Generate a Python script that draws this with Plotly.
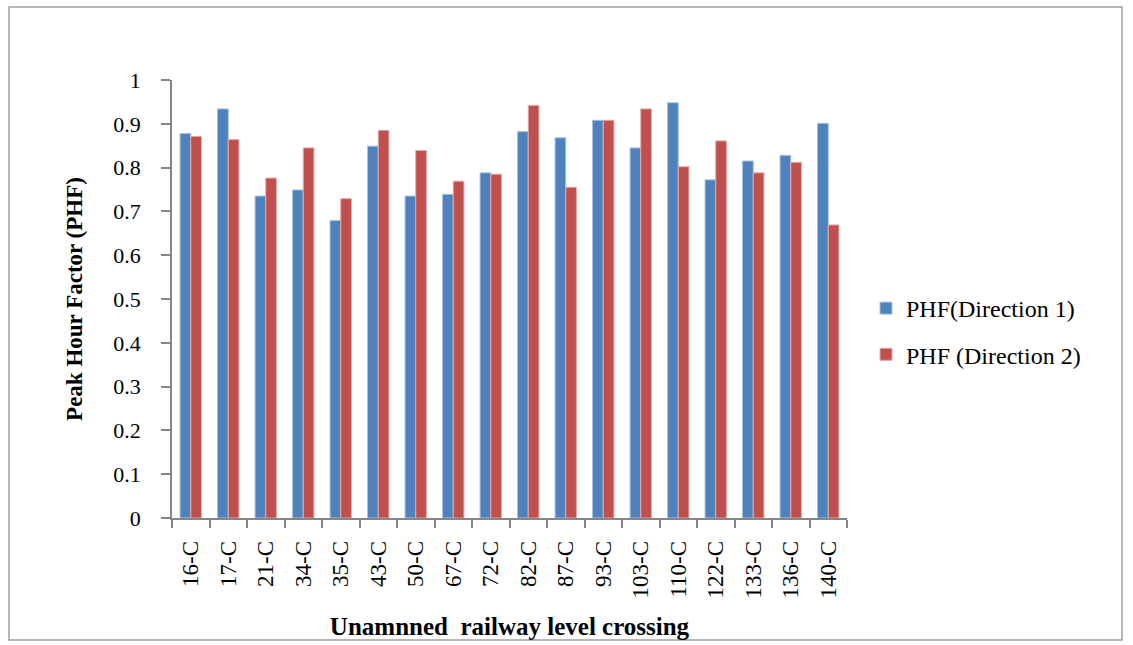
import plotly.graph_objects as go

categories = ["16-C", "17-C", "21-C", "34-C", "35-C", "43-C", "50-C", "67-C", "72-C",
              "82-C", "87-C", "93-C", "103-C", "110-C", "122-C", "133-C", "136-C", "140-C"]
phf_dir1 = [0.878, 0.934, 0.735, 0.749, 0.679, 0.849, 0.735, 0.739, 0.788,
            0.882, 0.868, 0.908, 0.845, 0.948, 0.772, 0.815, 0.828, 0.901]
phf_dir2 = [0.871, 0.864, 0.776, 0.845, 0.729, 0.885, 0.839, 0.769, 0.785,
            0.942, 0.755, 0.908, 0.934, 0.802, 0.861, 0.788, 0.812, 0.669]

FONT = "Liberation Serif, Times New Roman, serif"
W, H = 1133, 645
L, R, T, B = 172, 286, 80, 127

fig = go.Figure()
fig.add_trace(go.Bar(x=categories, y=phf_dir1, name="PHF(Direction 1)",
                     marker=dict(color="#4F81BD", line=dict(color="#A7C0DE", width=1)),
                     legendgroup="a"))
fig.add_trace(go.Bar(x=categories, y=phf_dir2, name="PHF (Direction 2)",
                     marker=dict(color="#C0504D", line=dict(color="#E3A9A7", width=1)),
                     legendgroup="b"))

pw = W - L - R
ph = H - T - B
def px(x):
    return (x - L) / pw
def py(y):
    return 1 - (y - T) / ph

fig.update_layout(
    width=W, height=H,
    margin=dict(l=L, r=R, t=T, b=B, autoexpand=False),
    paper_bgcolor="white", plot_bgcolor="white",
    barmode="group", bargap=0.43, bargroupgap=0,
    font=dict(family=FONT, color="black"),
    showlegend=True,
    legend=dict(x=px(866), y=py(286), xanchor="left", yanchor="top",
                font=dict(family=FONT, size=24, color="black"),
                traceorder="grouped", tracegroupgap=12, itemwidth=30),
    xaxis=dict(
        automargin=False,
        showline=True, linecolor="#868686", linewidth=1.5,
        ticks="outside", tickson="boundaries", ticklen=8, tickcolor="#868686", tickwidth=1.5,
        tickangle=-90, tickfont=dict(family=FONT, size=23, color="black"),
        ticklabelstandoff=12,
        title=dict(text="<b>Unamnned  railway level crossing</b>",
                   font=dict(family=FONT, size=25, color="black"), standoff=20),
        showgrid=False,
    ),
    yaxis=dict(
        automargin=False,
        range=[0, 1], dtick=0.1, tick0=0,
        showline=True, linecolor="#868686", linewidth=1.5,
        ticks="outside", ticklen=9, tickcolor="#868686", tickwidth=1.5,
        tickfont=dict(family=FONT, size=22, color="black"),
        ticklabelstandoff=16,
        title=dict(text="<b>Peak Hour Factor (PHF)</b>",
                   font=dict(family=FONT, size=23, color="black"), standoff=24),
        showgrid=False, zeroline=False,
    ),
    shapes=[dict(type="rect", xref="paper", yref="paper",
                 x0=px(9), x1=px(1122), y0=py(640), y1=py(7),
                 line=dict(color="#A0A0A0", width=1.5), fillcolor="rgba(0,0,0,0)", layer="below")],
)

fig.write_html("out.html")
